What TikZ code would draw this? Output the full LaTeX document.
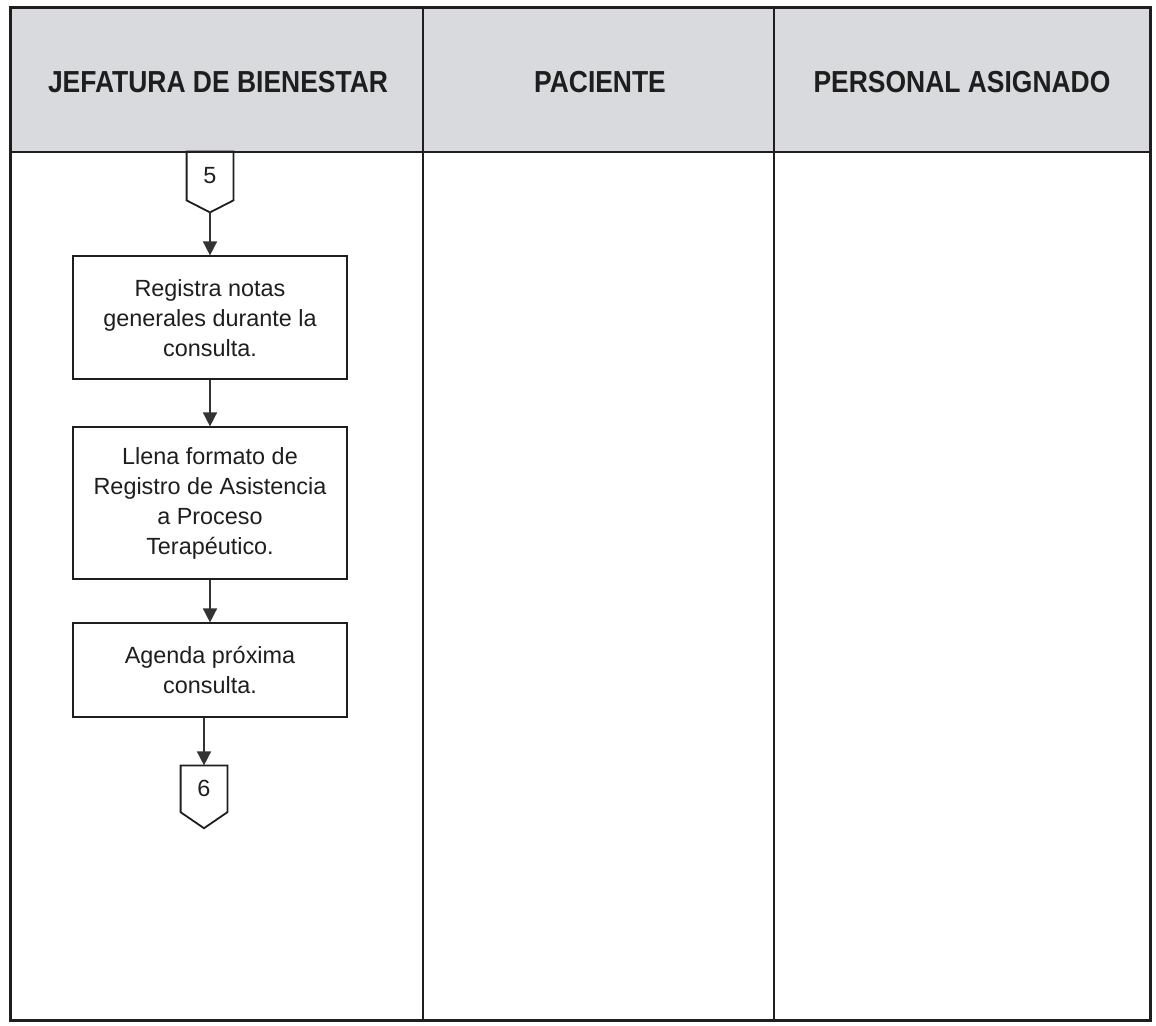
\documentclass[tikz,border=0pt]{standalone}
\usepackage{fontspec}
\setmainfont{Liberation Sans}
\newfontfamily\narrowfont[FakeStretch=0.87]{Liberation Sans}
\usepackage{xcolor}
\definecolor{Ink}{HTML}{1E1E1E}
\definecolor{HeadGray}{HTML}{D9DADD}
\definecolor{Wire}{HTML}{333333}
\colorlet{ink}{Ink}
\colorlet{headgray}{HeadGray}
\colorlet{wire}{Wire}
\usepackage{tikz}
\usetikzlibrary{arrows.meta,positioning}

\begin{document}
\begin{tikzpicture}[x=0.5pt,y=-0.5pt,node distance=22pt, every node/.style={font=\fontsize{11.7}{15}\selectfont,align=center,text=ink}]
\useasboundingbox (0,0) rectangle (1156,1026);
% lanes
\fill[headgray] (10,8) rectangle (1150,152);
\draw[ink,line width=1pt] (10,152)--(1150,152);
\draw[ink,line width=1pt] (423,8)--(423,1020);
\draw[ink,line width=1pt] (774,8)--(774,1020);
\draw[ink,line width=1.5pt] (10,8) rectangle (1150,1020);
\node[font=\narrowfont\bfseries\fontsize{15.2}{18}\selectfont] (jefatura) at (218,82) {JEFATURA DE BIENESTAR};
\node[font=\narrowfont\bfseries\fontsize{15.2}{18}\selectfont] (paciente) at (600,82) {PACIENTE};
\node[font=\narrowfont\bfseries\fontsize{15.2}{18}\selectfont] (personal) at (962,82) {PERSONAL ASIGNADO};
% flow
\node[minimum width=23pt,minimum height=24pt,inner sep=0pt] (c5) at (210,176) {5};
\draw[ink,line width=0.9pt] (c5.north west)--(c5.south west)--([yshift=-6pt]c5.south)--(c5.south east)--(c5.north east)--cycle;
\coordinate (c5tip) at ([yshift=-6pt]c5.south);
\node[draw=ink,line width=1pt,minimum width=137pt,minimum height=61.5pt,below=27.5pt of c5] (b1) {Registra notas\\generales durante la\\consulta.};
\node[draw=ink,line width=1pt,minimum width=137pt,minimum height=76pt,below=23pt of b1] (b2) {Llena formato de\\Registro de Asistencia\\a Proceso\\Terapéutico.};
\node[draw=ink,line width=1pt,minimum width=137pt,minimum height=47pt,below=21pt of b2] (b3) {Agenda próxima\\consulta.};
\node[minimum width=23pt,minimum height=23pt,inner sep=0pt,below=23.5pt of b3,xshift=-3pt] (c6) {6};
\draw[ink,line width=0.9pt] (c6.north west)--(c6.south west)--([yshift=-8pt]c6.south)--(c6.south east)--(c6.north east)--cycle;
\draw[-{Triangle[width=7pt,length=7pt]},wire,line width=0.8pt] (c5tip)--(b1);
\draw[-{Triangle[width=7pt,length=7pt]},wire,line width=0.8pt] (b1)--(b2);
\draw[-{Triangle[width=7pt,length=7pt]},wire,line width=0.8pt] (b2)--(b3);
\draw[-{Triangle[width=7pt,length=7pt]},wire,line width=0.8pt] (b3.south -| c6.north)--(c6.north);
\end{tikzpicture}
\end{document}
